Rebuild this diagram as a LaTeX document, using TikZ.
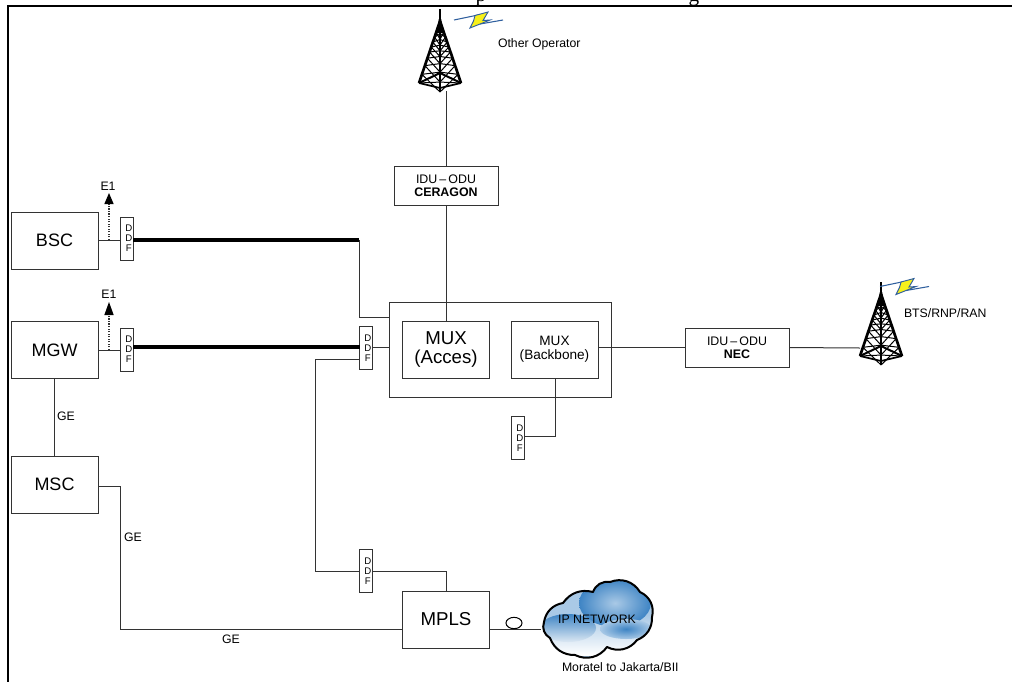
\documentclass[tikz,border=0pt]{standalone}
\usepackage{fontspec}
\setmainfont{Liberation Sans}
\newfontfamily\serifface{Liberation Serif}
\usetikzlibrary{arrows.meta,shapes.geometric}
\definecolor{wire}{HTML}{333333}
\definecolor{cloudA}{HTML}{3E84C4}
\definecolor{cloudB}{HTML}{A9C9E6}
\definecolor{cloudC}{HTML}{DCE8F3}
\definecolor{boltblue}{HTML}{2F5F9E}
\definecolor{boltyellow}{HTML}{F7F01A}
\newcommand{\ddfletters}{\hspace*{3.6pt}D\\\hspace*{3.6pt}D\\\hspace*{3.6pt}F}
\tikzset{
  x=0.75pt,y=-0.75pt,
  wireline/.style={draw=wire,line width=0.75pt},
  heavy/.style={draw=black,line width=2.4pt},
  unit/.style 2 args={draw=wire,line width=0.75pt,fill=white,inner sep=0pt,outer sep=0pt,
    align=center,minimum width=#1*0.75pt,minimum height=#2*0.75pt},
  bigbox/.style={unit={87}{57},font=\fontsize{13.5pt}{15.5pt}\selectfont},
  linkbox/.style={unit={104}{39},font=\fontsize{9.3pt}{10pt}\selectfont},
  ddfbox/.style={unit={13}{43},font=\fontsize{7.2pt}{7.5pt}\selectfont},
  tag/.style={inner sep=0pt,outer sep=0pt,font=\fontsize{9.2pt}{10pt}\selectfont},
  pics/tower/.style={code={
    \draw[black,line width=1.6pt] (0,0) -- (0,12);
    \fill[black] (-3,24) -- (-1.2,10) -- (1.2,10) -- (3,24) -- cycle;
    \draw[black,line width=2pt,line join=round] (-21,74) -- (0,12) -- (21,74);
    \draw[black,line width=2pt] (0,12) -- (0,83);
    \draw[black,line width=1.5pt,line join=round] (-21,74) -- (0,64) -- (21,74);
    \draw[black,line width=1.3pt,line join=round] (-21,74) -- (0,79) -- (21,74);
    \foreach \a/\b in {.1/.18,.18/.26,.26/.34,.34/.42,.42/.5,.5/.6,.6/.72,.72/.86,.86/1}{
      \draw[black,line width=0.75pt]
        (-21*\a,12+62*\a) -- (0,12+71*\b)
        (21*\a,12+62*\a) -- (0,12+71*\b)
        (-21*\b,12+62*\b) -- (0,12+71*\a)
        (21*\b,12+62*\b) -- (0,12+71*\a);
    }
  }},
  pics/flash/.style={code={
    \draw[draw=boltblue,line width=0.8pt] (0,0) -- (24,-5);
    \draw[draw=boltblue,line width=0.8pt] (26,4) -- (49,0);
    \draw[draw=boltblue,line width=0.7pt,fill=boltyellow,line join=miter]
      (21,-4.5) -- (34,-8) -- (29,0.5) -- (36,0) -- (16,8) -- (19.5,1) -- cycle;
  }},
}
\begin{document}
\begin{tikzpicture}
\useasboundingbox (0,0) rectangle (1012,682);

% clipped remains of the page heading
\node[inner sep=0pt,anchor=base,font=\serifface\fontsize{16pt}{18pt}\selectfont] (headp) at (481,1) {p};
\node[inner sep=0pt,anchor=base,font=\serifface\fontsize{16pt}{18pt}\selectfont] (headg) at (694,1) {g};

% page frame
\coordinate (framec) at (8,5.5);
\coordinate (framer) at (1012,5.5);
\coordinate (frameb) at (8,682);
\draw[black,line width=1.5pt] (framer) -- (framec) -- (frameb);

% boxes
\node[bigbox] (bsc) at (54.5,240.5) {BSC};
\node[bigbox] (mgw) at (54.5,350) {MGW};
\node[bigbox] (msc) at (54.5,484.5) {MSC};
\node[ddfbox] (ddfa) at (126.5,238.5) {\ddfletters};
\node[ddfbox] (ddfb) at (126.5,349.5) {\ddfletters};
\node[ddfbox] (ddfc) at (365.5,348) {\ddfletters};
\node[ddfbox] (ddfd) at (365.5,571) {\ddfletters};
\node[ddfbox] (ddfe) at (517.5,438) {\ddfletters};
\node[unit={222}{95}] (outer) at (500,349.5) {};
\node[bigbox,font=\fontsize{14pt}{14.5pt}\selectfont] (muxa) at (446,349.5) {MUX\\(Acces)};
\node[bigbox,font=\fontsize{10.2pt}{10.7pt}\selectfont] (muxb) at (554.5,349.5) {MUX\\(Backbone)};
\node[bigbox,font=\fontsize{14pt}{17pt}\selectfont] (mpls) at (446,619.5) {MPLS};
\node[linkbox] (cera) at (446,185.5) {IDU\,--\,ODU\\\textbf{CERAGON}};
\node[linkbox] (nec) at (737,347.5) {IDU\,--\,ODU\\\textbf{NEC}};

% towers
\coordinate (towa) at (440,9);
\coordinate (towb) at (881,282);
\pic at (towa) {tower};
\pic at (towb) {tower};
\coordinate (towafoot) at (446,91);
\coordinate (towbfoot) at (860,348);

% bolts
\coordinate (flasha) at (454,20);
\coordinate (flashb) at (880,286.5);
\pic at (flasha) {flash};
\pic at (flashb) {flash};

% cloud
\coordinate (cloudw) at (541,629);
\begin{scope}
\clip (544,622) to[bend left=35] (563,603) to[bend left=35] (593,592) to[bend left=40] (610,582)
  to[bend left=40] (640,592) to[bend left=40] (652,617) to[bend left=35] (637,640)
  to[bend left=40] (607,647) to[bend left=40] (575,655) to[bend left=35] (550,638)
  to[bend left=40] cycle;
\fill[cloudB] (530,575) rectangle (660,665);
\shade[top color=cloudB,bottom color=white] (530,615) rectangle (660,655);
\shade[inner color=cloudB,outer color=cloudA] (615,603) ellipse (36 and 24);
\shade[inner color=cloudA,outer color=cloudB] (626,629) ellipse (26 and 10);
\shade[top color=cloudA,bottom color=cloudC] (568,628) ellipse (28 and 14);
\end{scope}
\draw[black,line width=1.5pt,line join=round] (544,622) to[bend left=35] (563,603) to[bend left=35] (593,592) to[bend left=40] (610,582)
  to[bend left=40] (640,592) to[bend left=40] (652,617) to[bend left=35] (637,640)
  to[bend left=40] (607,647) to[bend left=40] (575,655) to[bend left=35] (550,638)
  to[bend left=40] cycle;
\node[tag] (iptext) at (597,619) {IP NETWORK};

% connectors
\draw[wireline] (towafoot) -- (towafoot |- cera.north);
\draw[wireline] (cera.south) -- (muxa.north);
\draw[wireline] (bsc.east) -- (bsc.east -| ddfa.west);
\draw[wireline] (mgw.east) -- (mgw.east -| ddfb.west);
\coordinate (bscend) at (359,240);
\coordinate (bscdrop) at (359,317);
\coordinate (mgwend) at (360,347);
\draw[heavy] (ddfa.east |- bscend) -- (bscend);
\draw[heavy] (ddfb.east |- mgwend) -- (mgwend);
\draw[wireline] (bscend) -- (bscdrop) -- (bscdrop -| outer.west);
\draw[wireline] (ddfc.east |- mgwend) -- (outer.west |- mgwend);
\coordinate (ddfcout) at (359,359);
\coordinate (ringtop) at (315,359);
\coordinate (ringbot) at (315,571);
\draw[wireline] (ddfcout) -- (ringtop) -- (ringbot) -- (ddfd.west);
\coordinate (mplsup) at (446,571);
\draw[wireline] (ddfd.east) -- (mplsup) -- (mpls.north);
\coordinate (bbdrop) at (555,436);
\draw[wireline] (bbdrop |- muxb.south) -- (bbdrop) -- (bbdrop -| ddfe.east);
\draw[wireline] (muxb.east |- nec.west) -- (nec.west);
\draw[wireline] (nec.east) -- (towbfoot);
\draw[wireline] (mgw.south) -- (msc.north);
\coordinate (gea) at (120,486);
\coordinate (geb) at (120,629);
\draw[wireline] (msc.east |- gea) -- (gea) -- (geb) -- (geb -| mpls.west);
\draw[wireline] (mpls.east |- cloudw) -- (cloudw);
\node[draw=black,line width=0.75pt,fill=white,ellipse,inner sep=0pt,outer sep=0pt,
  minimum width=12pt,minimum height=8.5pt] (ring) at (514,623) {};

% E1 arrows
\coordinate (eatip) at (109,193);
\coordinate (ebtip) at (109,302);
\draw[wire,line width=0.9pt,densely dotted] (109,240) -- (109,203);
\draw[wire,line width=0.9pt,densely dotted] (109,350) -- (109,314);
\fill[black] (eatip) -- (104.3,204) -- (113.7,204) -- cycle;
\fill[black] (ebtip) -- (104.3,315) -- (113.7,315) -- cycle;

% labels
\node[tag] (eone) at (108,186) {E1};
\node[tag] (etwo) at (109,294) {E1};
\node[tag] (gelab) at (66,416) {GE};
\node[tag] (gelabb) at (133,537) {GE};
\node[tag] (gelabc) at (231,639) {GE};
\node[tag,anchor=west] (oper) at (498,44) {Other Operator};
\node[tag,anchor=west] (bts) at (904,313) {BTS/RNP/RAN};
\node[tag,anchor=west] (mor) at (562,667) {Moratel to Jakarta/BII};
\end{tikzpicture}
\end{document}
